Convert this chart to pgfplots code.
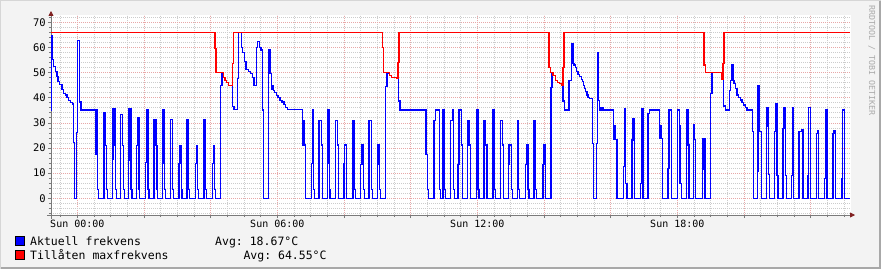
\documentclass[border=0pt]{standalone}
\usepackage{pgfplots}
\usepackage{pgfplotstable}
\pgfplotsset{compat=1.18}
\usepackage{fontspec}
\setmonofont{DejaVu Sans Mono}
\usetikzlibrary{arrows.meta}
\definecolor{bgc}{HTML}{F3F3F3}
\definecolor{framelight}{HTML}{D6D6D6}
\definecolor{framedark}{HTML}{A8A8A8}
\definecolor{mgrid}{HTML}{E8A8A8}
\definecolor{ngrid}{HTML}{CCCCCC}
\definecolor{axc}{HTML}{7A7A7A}
\definecolor{arrc}{HTML}{802020}
\definecolor{wm}{HTML}{AAAAAA}
\definecolor{rblue}{HTML}{0000FF}
\definecolor{rred}{HTML}{FF0000}

% x = time in samples (1 sample = 1.8 min), Sun 00:00 at 77.333; y = value
\pgfplotstableread{
x v
51 35
51.3 64.6
52.7 55.3
53.7 52.4
55.3 50.4
57 48.4
58 46.4
59.7 45.4
62 43.3
63.7 41.7
65.3 41.1
67 40.2
68.7 38.8
70.7 38.2
72.3 37.5
73.5 22.2
74.7 0
76.7 26.2
77.7 62.6
79.3 38.3
81 35.1
95.7 17.5
96.3 35.1
97 17.5
97.7 3.6
98.7 0
104 34.2
105.3 20.9
106.7 3.6
107.7 0
112.3 15.5
113 35.5
115 20.9
115.7 3.6
116.3 0
120.7 33.5
122.3 20.9
123.3 3.6
124.3 0
128.3 15.2
129 35.5
131 3.6
132 0
136.7 20.9
137.3 32.2
139 3.6
139.7 0
145.7 14.3
146.3 35.1
148 3.6
149 0
154 31.5
156 20.9
157 3.6
157.7 0
162.3 13.9
163 35.1
164.7 3.6
165.7 0
170.7 31.5
172.7 3.6
173.7 0
179 13.9
180 20.9
181.3 3.6
182 0
187 31.5
188.3 3.6
189.3 0
195.7 13.9
196.3 20.9
197.7 3.6
198.3 0
204 31.5
205.7 3.6
206.7 0
212.3 13.9
213.3 20.9
214.3 3.6
215.3 0
220.7 44.7
222 50
223.3 48
225 47
226.7 45.9
228.3 44.7
232.3 36.4
234 35.3
237.7 47.7
238.7 65.8
241.3 59.8
242.7 58.1
244.3 54.3
246 51.3
248.3 50.6
250.7 49.7
252.3 48
254 45
256.3 60
257.7 62.2
259.7 59.8
261 59
262.7 35.1
263.3 0
268.3 59
270 49.5
271.3 43.1
272 45
273.3 43
274.7 42
276.3 40.9
278 40
280 39
282 38.3
284 37.3
285.7 36.2
287.3 35.2
302.3 21.2
303.3 31.1
304.3 21.2
305.3 3.6
305.7 0
311.3 13.9
312.3 35.1
313.7 3.6
314.7 0
319 31.1
321.3 21.2
322.3 0
327.3 13.9
328 35.1
329.3 3.6
330 0
335.7 31.1
337.3 21.2
338.7 0
344 13.9
344.7 21.2
346.7 0
353 31.1
354.7 3.6
355.7 0
360.7 13.6
362 21.2
363.7 3.6
364.7 0
369 31.1
371.3 3.6
372.3 0
377.3 13.6
378 21.2
379.7 3.6
380.3 0
385.7 44.4
387 49.7
389.7 49
391.3 48.1
397 47.7
398.3 38.7
400 35.1
425.3 17.6
426 35.1
426.7 17.6
427.7 3.6
428.7 0
434 31.1
435.7 35.1
439.7 3.6
440.7 0
443 35.1
444.7 3.6
445.7 0
450.7 31.1
452.3 35.1
453.7 3.6
454.7 0
458 13.6
459 35.1
461.3 21.2
462.3 0
467.3 31.1
469 21.2
470.3 0
476.3 35.1
478 3.6
479 0
484 31.1
485.7 21.2
487 0
493 35.1
494.7 3.6
495.7 0
500.7 31.1
502.3 21.2
503.3 0
508.3 13.6
509 21.2
511.3 3.6
512.3 0
517.3 31.1
518.7 3.6
519.7 0
525.7 13.6
526.3 21.2
528 3.6
529 0
534 31.1
535.7 3.6
536.7 0
543 13.6
544 21.2
545.3 0
551 44.1
552 50.1
553 49
555.3 47
557.3 46.1
559.7 45.5
563 38.7
564.7 35.1
569 46.8
571.3 61.4
573 53.7
574 53.0
575.3 52.1
576.3 50.4
578 49.4
579.7 48.4
581.3 47.3
582.3 46.4
583.7 44.7
584.7 43.7
585.7 42.4
587 41.1
588 40.2
589.7 39.8
592.3 21.9
593.7 0
596.3 21.9
597.3 58
598.7 38.8
599.7 35.1
600.3 36
601.3 35.1
602.3 36
603.3 35.1
613.7 23.5
614.7 29.1
615.7 23.5
617 0
623.7 12.6
624.7 35.8
625.7 6
627 0
632 23.2
633 31.8
634 23.2
634.7 0
640.7 6
641.3 35.8
643 0
648 33.8
649.7 35.1
659.7 23.9
660.7 29.1
661.3 23.9
662.7 0
668 11.9
669 35.1
671.3 0
677.7 35.1
679.3 29
680 6
681.3 0
686.3 35.1
688 21.2
689 0
693.7 29.2
694.7 23.3
695.3 0
702.3 11.3
703 23.9
705 0
710.7 41.7
712 50.1
721.3 49
722 47.3
723.3 36.7
725.7 35.1
729.3 43
730.7 46.7
731.3 53
733 46.7
734 45.8
735.3 43.5
737 41.1
738.7 40.2
740.3 39.1
742 38.2
743.7 37.1
745.3 36.2
747 35.1
752.3 26.5
753.7 0
757.3 10.6
758 44.7
759.7 26.5
761.3 0
766.3 28.5
767 36.2
768.7 9.3
769.7 0
774.7 26.5
775.3 37.8
777 9
778 0
783 27.6
784 36.1
785.3 9
786.3 0
791.3 8.9
792.3 36.1
793.7 0
799 26.5
801.3 27.2
803 0
808 8.9
808.7 36.1
810.3 0
816.3 25.9
817.3 26.8
818.7 0
824.7 8
825.3 35.1
827 0
833 25.6
834 26.8
835.3 0
842 8
842.7 35.1
844.7 0
849.7 0
}\bluedata

\pgfplotstableread{
x v
51 66
215 59.7
216 50
223.3 48
225 47
226.7 45.9
228.3 44.7
232.3 53.6
233.3 66
382.3 60
383.7 50.1
389.7 49
391.3 48.1
397 47.7
398 54.1
399 66
549 52.1
550.7 50.1
553 49
555.3 47
557.3 46.1
559.7 45.5
562 44.8
563 52.1
564 66
704 53
705.3 50.1
721.3 49
722 47.3
723 53.7
724 66
849.7 66
}\reddata

\begin{document}
\begin{tikzpicture}[x=1pt,y=1pt]
\fill[bgc] (0,0) rectangle (881,269);
\draw[framelight,line width=1pt] (0.5,0.5) -- (0.5,268.5) -- (880.5,268.5);
\draw[framedark,line width=2pt] (1,1) -- (880,1) -- (880,268);
\begin{axis}[
  at={(51pt,54pt)}, anchor=south west,
  scale only axis, width=800pt, height=200pt,
  xmin=51, xmax=851, ymin=-6.64, ymax=72.9,
  axis background/.style={fill=white},
  axis x line*=bottom, axis y line*=left,
  x axis line style={draw=axc, line width=0.8pt, shorten <=-4pt, shorten >=-4pt,
     -{Triangle[length=5pt,width=5pt,color=arrc]}},
  y axis line style={draw=axc, line width=0.8pt, shorten <=-4pt, shorten >=-4pt,
     -{Triangle[length=5pt,width=5pt,color=arrc]}},
  clip=false,
  xtick={77.333,144,210.667,277.333,344,410.667,477.333,544,610.667,677.333,744,810.667},
  xticklabels={Sun 00:00,,,Sun 06:00,,,Sun 12:00,,,Sun 18:00,,},
  minor xtick={60.667,77.333,...,851},
  ytick={0,10,20,30,40,50,60,70},
  yticklabels={0,10,20,30,40,50,60,70},
  minor ytick={-6,-4,...,72},
  grid=both,
  major grid style={draw=mgrid, dash pattern=on 1pt off 1pt, line width=0.7pt},
  minor grid style={draw=ngrid, dash pattern=on 1pt off 1pt, line width=0.7pt},
  tick align=outside,
  major tick length=3pt, minor tick length=2pt,
  tick style={draw=axc, line width=0.7pt},
  xticklabel style={font=\ttfamily\fontsize{10}{10}\selectfont, inner sep=0pt, yshift=-2pt},
  yticklabel style={font=\ttfamily\fontsize{10.5}{10}\selectfont, inner sep=0pt, xshift=-2pt},
]
\addplot[rblue, line width=1.1pt, const plot, no marks, line join=miter] table[x=x,y=v] {\bluedata};
\addplot[rred, line width=1.1pt, const plot, no marks, line join=miter] table[x=x,y=v] {\reddata};
\end{axis}
% legend
\filldraw[fill=rblue, draw=black, line width=0.8pt] (15.5,23.5) rectangle (24,32.5);
\filldraw[fill=rred, draw=black, line width=0.8pt] (15.5,9.3) rectangle (24,18.3);
\node[anchor=base west, inner sep=0pt, font=\ttfamily\fontsize{11.5}{12}\selectfont] at (30,23.5) {Aktuell frekvens};
\node[anchor=base west, inner sep=0pt, font=\ttfamily\fontsize{11.5}{12}\selectfont] at (215,23.5) {Avg: 18.67°C};
\node[anchor=base west, inner sep=0pt, font=\ttfamily\fontsize{11.5}{12}\selectfont] at (30,9.3) {Tillåten maxfrekvens};
\node[anchor=base west, inner sep=0pt, font=\ttfamily\fontsize{11.5}{12}\selectfont] at (243.3,9.3) {Avg: 64.55°C};
% watermark
\node[rotate=-90, anchor=west, inner sep=0pt, text=wm, font=\ttfamily\fontsize{8.3}{9}\selectfont] at (871.7,264) {RRDTOOL / TOBI OETIKER};
\end{tikzpicture}
\end{document}
